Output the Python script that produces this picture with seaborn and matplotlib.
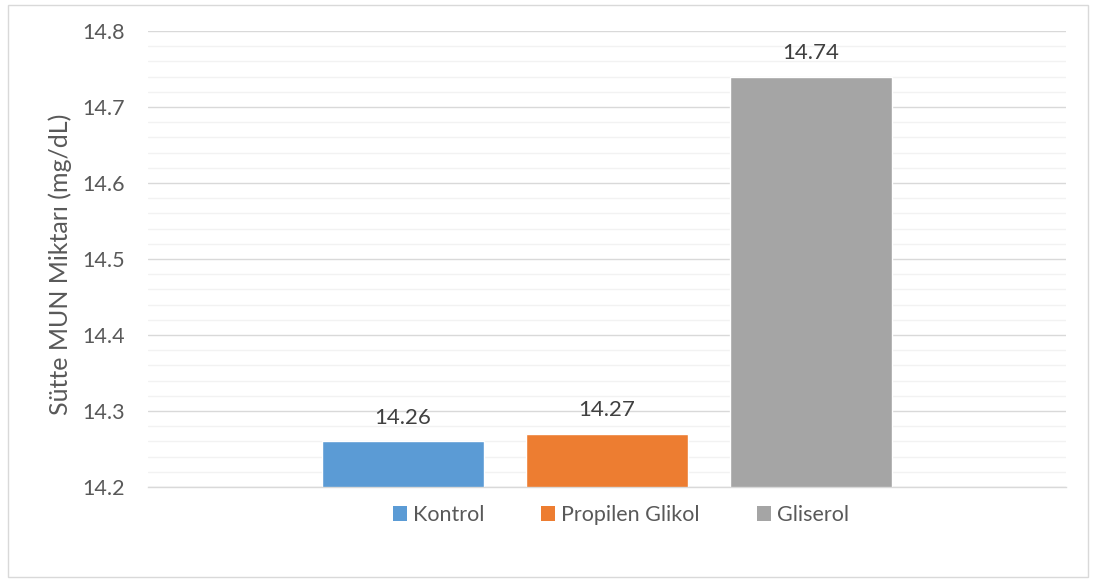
import matplotlib
matplotlib.use("Agg")
import matplotlib.pyplot as plt
import seaborn as sns
import pandas as pd
from matplotlib.ticker import MultipleLocator, FormatStrFormatter
from matplotlib.patches import Rectangle

categories = ["Kontrol", "Propilen Glikol", "Gliserol"]
values = [14.26, 14.27, 14.74]
colors = ["#5B9BD5", "#ED7D31", "#A5A5A5"]
y_label = "Sütte MUN Miktarı (mg/dL)"

sns.set_theme(style="white")
plt.rcParams['font.family'] = ['Lato', 'DejaVu Sans']

df = pd.DataFrame({"grp": [""] * len(categories), "Grup": categories, "MUN": values})

fig = plt.figure(figsize=(10.96, 5.81), dpi=100)
ax = fig.add_axes([148/1096, 1-487/581, (1066-148)/1096, (487-31)/581])

sns.barplot(data=df, x="grp", y="MUN", hue="Grup", hue_order=categories,
            palette=colors, width=0.667, gap=0.21, ax=ax, legend=False,
            saturation=1, bottom=0)

ax.set_ylim(14.2, 14.8)
ax.set_xlim(-0.5, 0.5)
ax.yaxis.set_major_locator(MultipleLocator(0.1))
ax.yaxis.set_minor_locator(MultipleLocator(0.02))
ax.grid(which="major", axis="y", color="#d9d9d9", linewidth=1.0)
ax.grid(which="minor", axis="y", color="#f2f2f2", linewidth=1.0)
ax.set_axisbelow(True)
ax.set_xticks([])
ax.set_xlabel("")
ax.set_ylabel(y_label, fontsize=18, color="#595959")
ax.yaxis.set_label_coords(-0.083, 0.488)
ax.tick_params(axis="y", which="both", length=0, labelsize=15.5, labelcolor="#595959", pad=16.5)
ax.yaxis.set_major_formatter(FormatStrFormatter("%.1f"))
for s in ["top", "right", "left"]:
    ax.spines[s].set_visible(False)
ax.spines["bottom"].set_color("#d9d9d9")
ax.spines["bottom"].set_linewidth(1.0)

for cont in ax.containers:
    ax.bar_label(cont, fmt="%.2f", padding=10, fontsize=16, color="#404040")

handles = [Rectangle((0, 0), 1, 1, facecolor=c, edgecolor="none") for c in colors]
fig.legend(handles, categories, loc="center", bbox_to_anchor=(621/1096, 1-515/581),
           ncol=3, frameon=False, fontsize=15.5, labelcolor="#595959",
           handlelength=0.65, handleheight=0.65, handletextpad=0.28, columnspacing=2.65)

fig.patches.append(Rectangle((8/1096, 4/581), 1080/1096, 572/581, transform=fig.transFigure,
                             fill=False, edgecolor="#d9d9d9", linewidth=1.0))

fig.savefig("out.png", dpi=100)
